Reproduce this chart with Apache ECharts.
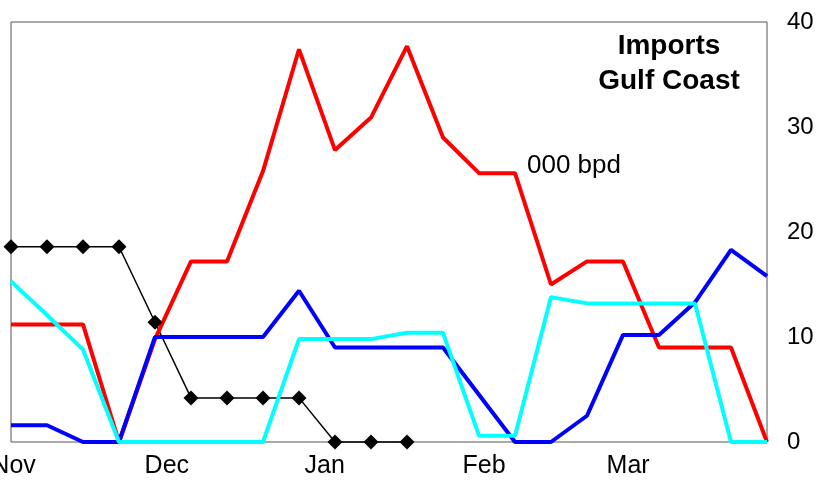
<!DOCTYPE html>
<html>
<head>
    <meta charset="utf-8">
    <title>Imports Gulf Coast</title>
    <script src="https://cdn.jsdelivr.net/npm/echarts@6/dist/echarts.min.js"></script>
    <style>
        html, body { margin: 0; padding: 0; background: #fff; }
    </style>
</head>
<body>
<div id="main" style="width: 824px;height:482px;"></div>
<script type="text/javascript">
    // weekly points, first one is 15 Nov
    var weeks = ['15-Nov', '22-Nov', '29-Nov', '6-Dec', '13-Dec', '20-Dec', '27-Dec', '3-Jan',
        '10-Jan', '17-Jan', '24-Jan', '31-Jan', '7-Feb', '14-Feb', '21-Feb', '28-Feb',
        '7-Mar', '14-Mar', '21-Mar', '28-Mar', '4-Apr', '11-Apr'];

    // 000 bpd
    var redLine = [11.2, 11.2, 11.2, 0, 9.8, 17.2, 17.2, 25.8, 37.4, 27.8, 30.9, 37.7,
        29.0, 25.6, 25.6, 15.0, 17.2, 17.2, 9.0, 9.0, 9.0, 0];
    var blueLine = [1.6, 1.6, 0, 0, 10.0, 10.0, 10.0, 10.0, 14.4, 9.0, 9.0, 9.0,
        9.0, 4.5, 0, 0, 2.5, 10.2, 10.2, 13.3, 18.3, 15.8];
    var cyanLine = [15.3, 12.1, 8.8, 0, 0, 0, 0, 0, 9.8, 9.8, 9.8, 10.4,
        10.4, 0.6, 0.6, 13.8, 13.2, 13.2, 13.2, 13.2, 0, 0];
    var blackLine = [18.6, 18.6, 18.6, 18.6, 11.4, 4.2, 4.2, 4.2, 4.2, 0, 0, 0,
        null, null, null, null, null, null, null, null, null, null];

    // month labels sit mid-month, in days from 15 Nov
    var monthNames = ['Nov', 'Dec', 'Jan', 'Feb', 'Mar'];
    var monthDays = [0.5, 30.3, 61, 92, 120];
    var monthPos = monthDays.map(function (d) { return d / 7; });

    var yTicks = [0, 10, 20, 30, 40];

    function pairs(arr) {
        return arr.map(function (v, i) { return [i, v]; });
    }

    var font = 'Liberation Sans, Arial, sans-serif';
    var myChart = echarts.init(document.getElementById('main'));

    var option = {
        animation: false,
        backgroundColor: '#fff',
        textStyle: { fontFamily: font },
        title: [{
            text: 'Imports\nGulf Coast',
            left: 669,
            top: 29,
            padding: 0,
            textAlign: 'center',
            textStyle: {
                fontFamily: font,
                fontSize: 28,
                fontWeight: 'bold',
                color: '#000',
                lineHeight: 35
            }
        }, {
            text: '000 bpd',
            left: 527,
            top: 153,
            padding: 0,
            textStyle: {
                fontFamily: font,
                fontSize: 26,
                fontWeight: 'normal',
                color: '#000'
            }
        }],
        grid: {
            left: 11,
            right: 57,
            top: 22,
            bottom: 40,
            show: true,
            borderColor: '#555',
            borderWidth: 1,
            outerBoundsMode: 'none'
        },
        xAxis: {
            type: 'value',
            min: 0,
            max: weeks.length - 1,
            axisLine: { show: false },
            axisTick: { show: false },
            splitLine: { show: false },
            axisLabel: {
                customValues: monthPos,
                margin: 12,
                fontFamily: font,
                fontSize: 25,
                color: '#000',
                hideOverlap: false,
                formatter: function (v) {
                    var k = monthPos.findIndex(function (p) { return Math.abs(p - v) < 1e-6; });
                    return k >= 0 ? monthNames[k] : '';
                }
            }
        },
        yAxis: {
            type: 'value',
            position: 'right',
            min: 0,
            max: yTicks[yTicks.length - 1],
            interval: 10,
            axisLine: { show: false },
            axisTick: { show: false },
            splitLine: { show: false },
            axisLabel: {
                margin: 20,
                fontFamily: font,
                fontSize: 24,
                color: '#000'
            }
        },
        series: [{
            type: 'line',
            data: pairs(blackLine),
            clip: false,
            symbol: 'diamond',
            symbolSize: 15,
            showAllSymbol: true,
            itemStyle: { color: '#000' },
            lineStyle: { color: '#000', width: 1.5 }
        }, {
            type: 'line',
            data: pairs(redLine),
            clip: false,
            showSymbol: false,
            lineStyle: { color: '#ff0000', width: 4 }
        }, {
            type: 'line',
            data: pairs(blueLine),
            clip: false,
            showSymbol: false,
            lineStyle: { color: '#0000ff', width: 4 }
        }, {
            type: 'line',
            data: pairs(cyanLine),
            clip: false,
            showSymbol: false,
            lineStyle: { color: '#00ffff', width: 4 }
        }]
    };

    myChart.setOption(option);
</script>
</body>
</html>
